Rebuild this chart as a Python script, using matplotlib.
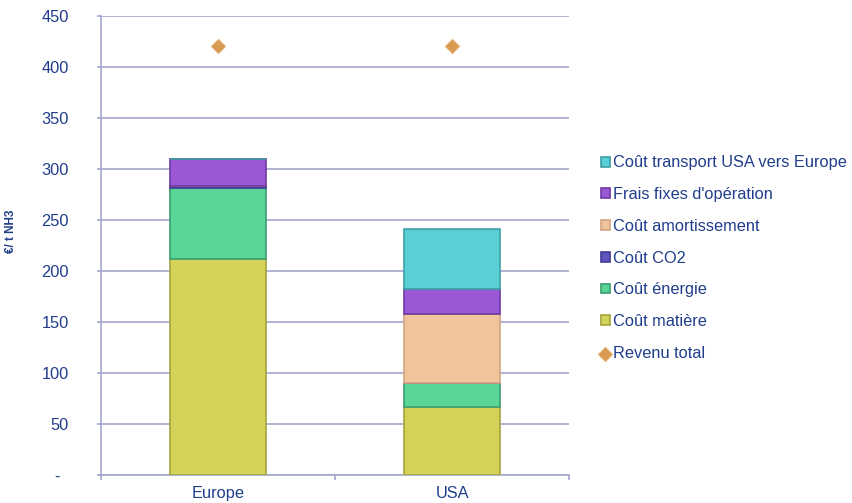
import numpy as np
import matplotlib.pyplot as plt

plt.rcParams['font.family'] = ['Liberation Sans', 'DejaVu Sans']

# Coûts de production NH3 (€/t)
regions = ['Europe', 'USA']
cout_matiere = [212, 67]
cout_energie = [69, 23]
cout_co2 = [2, 0]
cout_amortissement = [0, 68]
frais_fixes = [27, 24]
cout_transport = [0, 59]
revenu_total = [421, 421]

series = [
    ('Coût matière', cout_matiere, '#D3D35A', '#A3A33E'),
    ('Coût énergie', cout_energie, '#5AD598', '#3A9E70'),
    ('Coût CO2', cout_co2, '#5E55C0', '#433A96'),
    ('Coût amortissement', cout_amortissement, '#F1C49C', '#D2A384'),
    ("Frais fixes d'opération", frais_fixes, '#9B58D5', '#6E3AA2'),
    ('Coût transport USA vers Europe', cout_transport, '#5AD0D6', '#3E9FA5'),
]

txt = '#1F3D8A'
grid = '#A2A6CC'

fig = plt.figure(figsize=(8.52, 5.03), dpi=100)
ax = fig.add_axes([0.1185, 0.0557, 0.5495, 0.9125])

x = np.arange(len(regions))
bottom = np.zeros(len(regions))
bar_handles = []
for label, vals, fc, ec in series:
    vals = np.array(vals, dtype=float)
    b = ax.bar(x, vals, width=0.41, bottom=bottom, color=fc, edgecolor=ec,
               linewidth=1.2, label=label, zorder=3)
    bar_handles.append(b)
    bottom += vals

rev = ax.scatter(x, revenu_total, marker='D', s=55, color='#D99A52',
                 edgecolor='#E8B880', linewidth=0.6, label='Revenu total', zorder=4)

ax.set_xlim(-0.5, 1.5)
ax.set_ylim(0, 450)
yt = np.arange(0, 451, 50)
ax.set_yticks(yt)
ax.set_yticklabels(['-  '] + [str(v) for v in yt[1:]])
ax.yaxis.grid(True, color=grid, linewidth=1.2, zorder=0)
ax.set_axisbelow(True)

# ticks between categories on x axis, labels centred under bars
ax.set_xticks([-0.5, 0.5, 1.5])
ax.set_xticklabels([])
ax.set_xticks(x, minor=True)
ax.set_xticklabels(regions, minor=True)
ax.tick_params(axis='x', which='minor', length=0, pad=8, labelsize=11.8, labelcolor=txt)
ax.tick_params(axis='x', which='major', length=3.5, color=grid, width=1.2)
ax.tick_params(axis='y', length=3, color=grid, width=1.2, labelsize=11.8,
               labelcolor=txt, pad=20)
for lbl in ax.get_yticklabels():
    lbl.set_horizontalalignment('right')

for s in ['top', 'right']:
    ax.spines[s].set_visible(False)
for s in ['left', 'bottom']:
    ax.spines[s].set_color(grid)
    ax.spines[s].set_linewidth(1.2)

ax.set_ylabel('€/ t NH3', color=txt, fontweight='bold', fontsize=8.5)
ax.yaxis.set_label_coords(-0.18, 0.53)

# bars listed top to bottom, then revenue marker
handles = bar_handles[::-1] + [rev]
labels = [s[0] for s in series][::-1] + ['Revenu total']
leg = fig.legend(handles, labels,
                 loc='center left', bbox_to_anchor=(0.705, 0.487),
                 frameon=False, fontsize=11.8, labelspacing=1.02,
                 handlelength=0.55, handleheight=0.55, handletextpad=0.2,
                 borderaxespad=0, borderpad=0)
for t in leg.get_texts():
    t.set_color(txt)

fig.savefig('out.png', dpi=100)
